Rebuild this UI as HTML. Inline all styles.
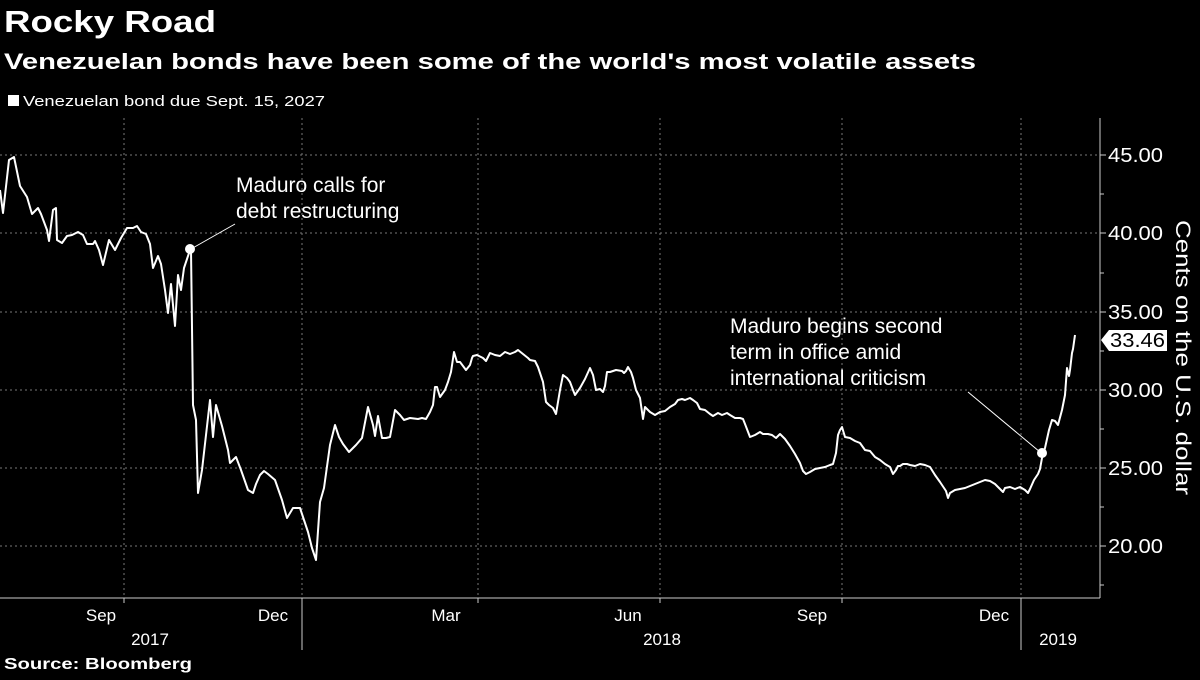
<!DOCTYPE html>
<html><head><meta charset="utf-8"><style>
body{margin:0;background:#000;width:1200px;height:675px;overflow:hidden;font-family:"Liberation Sans",sans-serif;color:#fff}
</style></head><body>
<svg width="1200" height="675" xmlns="http://www.w3.org/2000/svg" font-family="Liberation Sans, sans-serif" fill="#fff">
<text x="4" y="32" font-size="31" font-weight="bold" textLength="212" lengthAdjust="spacingAndGlyphs">Rocky Road</text>
<text x="4" y="69" font-size="22" font-weight="bold" textLength="972" lengthAdjust="spacingAndGlyphs">Venezuelan bonds have been some of the world's most volatile assets</text>
<rect x="8" y="95" width="11" height="11" fill="#fff"/>
<text x="23" y="106" font-size="15" textLength="302" lengthAdjust="spacingAndGlyphs">Venezuelan bond due Sept. 15, 2027</text>
<g stroke="#777" stroke-dasharray="2,3" stroke-width="1">
<line x1="0" y1="155" x2="1100" y2="155"/><line x1="0" y1="233" x2="1100" y2="233"/><line x1="0" y1="312" x2="1100" y2="312"/><line x1="0" y1="390" x2="1100" y2="390"/><line x1="0" y1="468" x2="1100" y2="468"/><line x1="0" y1="546" x2="1100" y2="546"/>
<line x1="124" y1="118" x2="124" y2="598"/><line x1="302" y1="118" x2="302" y2="598"/><line x1="478" y1="118" x2="478" y2="598"/><line x1="660" y1="118" x2="660" y2="598"/><line x1="842" y1="118" x2="842" y2="598"/><line x1="1021" y1="118" x2="1021" y2="598"/>
</g>
<g stroke="#ccc" stroke-width="1">
<line x1="1100" y1="118" x2="1100" y2="598"/><line x1="0" y1="598" x2="1100" y2="598"/>
<line x1="1100" y1="155" x2="1106" y2="155"/><line x1="1100" y1="233" x2="1106" y2="233"/><line x1="1100" y1="312" x2="1106" y2="312"/><line x1="1100" y1="390" x2="1106" y2="390"/><line x1="1100" y1="468" x2="1106" y2="468"/><line x1="1100" y1="546" x2="1106" y2="546"/>
<line x1="1100" y1="194" x2="1104" y2="194"/><line x1="1100" y1="273" x2="1104" y2="273"/><line x1="1100" y1="351" x2="1104" y2="351"/><line x1="1100" y1="429" x2="1104" y2="429"/><line x1="1100" y1="507" x2="1104" y2="507"/><line x1="1100" y1="585" x2="1104" y2="585"/>
<line x1="124" y1="598" x2="124" y2="603"/><line x1="302" y1="598" x2="302" y2="650"/><line x1="478" y1="598" x2="478" y2="603"/><line x1="660" y1="598" x2="660" y2="603"/><line x1="842" y1="598" x2="842" y2="603"/><line x1="1021" y1="598" x2="1021" y2="650"/>
</g>
<g font-size="20">
<text x="1108" y="162" textLength="55" lengthAdjust="spacingAndGlyphs">45.00</text><text x="1108" y="240" textLength="55" lengthAdjust="spacingAndGlyphs">40.00</text><text x="1108" y="319" textLength="55" lengthAdjust="spacingAndGlyphs">35.00</text><text x="1108" y="397" textLength="55" lengthAdjust="spacingAndGlyphs">30.00</text><text x="1108" y="475" textLength="55" lengthAdjust="spacingAndGlyphs">25.00</text><text x="1108" y="553" textLength="55" lengthAdjust="spacingAndGlyphs">20.00</text>
</g>
<polygon points="1101,340 1109,330 1167,330 1167,351 1109,351" fill="#fff"/>
<text x="1110" y="347" font-size="20" fill="#000" textLength="55" lengthAdjust="spacingAndGlyphs">33.46</text>
<text transform="translate(1176,220) rotate(90)" font-size="21" textLength="275" lengthAdjust="spacingAndGlyphs">Cents on the U.S. dollar</text>
<g font-size="17" text-anchor="middle">
<text x="101" y="621">Sep</text><text x="273" y="621">Dec</text><text x="446" y="621">Mar</text><text x="628" y="621">Jun</text><text x="812" y="621">Sep</text><text x="994" y="621">Dec</text>
<text x="150" y="645">2017</text><text x="662" y="645">2018</text><text x="1058" y="645">2019</text>
</g>
<text x="4" y="669" font-size="16" font-weight="bold" textLength="188" lengthAdjust="spacingAndGlyphs">Source: Bloomberg</text>
<polyline fill="none" stroke="#fff" stroke-width="2" stroke-linejoin="round" points="0,190 3,213 9,160 14,157 20,186 27,197 32,214 38,208 41,214 47,230 49,241 53,210 56,208 57,240 62,243 67,236 72,235 78,232 83,235 87,244 93,244 95,241 99,250 103,265 109,240 115,250 121,238 127,228 133,228 137,226 141,232 146,234 150,244 153,268 158,256 161,264 165,290 168,313 171,284 175,326 178,275 181,290 184,268 190,250 191,250 193,405 196,420 198,493 202,470 210,400 213,437 216,405 222,426 228,450 230,463 236,457 241,470 248,490 253,493 256,484 260,475 264,471 268,474 275,480 282,500 287,518 293,508 300,508 304,520 308,532 312,548 316,560 320,502 324,488 330,445 335,425 339,437 343,444 349,452 356,445 362,438 368,407 373,425 375,436 378,416 382,438 386,438 390,437 395,410 400,415 404,420 410,418 418,419 422,418 426,419 430,412 433,405 435,387 437,387 440,397 445,390 448,382 451,372 454,352 457,362 460,362 463,366 466,370 470,365 472,358 473,356 477,355 483,358 486,361 490,353 495,355 500,356 505,352 510,354 515,352 518,350 523,354 528,358 530,360 535,361 538,367 543,382 546,402 549,405 553,408 556,414 560,390 563,375 567,378 570,382 573,390 575,395 580,388 585,379 590,368 593,375 596,390 600,389 603,392 605,386 607,372 610,372 616,370 622,371 624,373 626,371 628,367 631,372 633,378 636,390 640,398 643,419 645,407 648,410 650,412 655,415 660,412 665,411 670,407 675,404 678,400 682,399 685,400 690,398 693,400 697,403 700,409 705,410 710,414 713,416 718,413 722,415 727,413 730,415 735,418 740,418 743,419 745,424 750,437 755,435 760,432 763,434 768,434 772,435 776,438 780,434 785,439 790,446 795,454 800,463 803,471 806,474 810,472 815,469 820,468 825,467 830,465 833,464 836,453 838,435 840,430 842,427 845,437 850,438 855,441 860,443 865,450 870,451 875,457 880,460 885,464 890,467 893,474 896,470 898,466 900,466 903,464 907,464 910,465 915,466 920,464 925,465 930,467 935,475 940,482 946,491 948,498 950,493 955,490 960,489 965,488 970,486 975,484 980,482 985,480 990,481 995,484 1000,489 1003,492 1005,488 1010,487 1015,489 1020,487 1025,490 1028,493 1030,489 1034,480 1038,474 1040,469 1042,458 1045,448 1049,430 1052,420 1055,421 1058,425 1062,410 1065,395 1067,368 1069,376 1070,370 1072,353 1073,349 1075,335"/>
<line x1="191" y1="249" x2="235" y2="224" stroke="#fff" stroke-width="1"/>
<circle cx="190" cy="249" r="5" fill="#fff"/>
<text x="236" y="192" font-size="21">Maduro calls for</text>
<text x="236" y="218" font-size="21">debt restructuring</text>
<line x1="968" y1="392" x2="1040" y2="452" stroke="#fff" stroke-width="1"/>
<circle cx="1042" cy="453" r="5" fill="#fff"/>
<text x="730" y="333" font-size="21">Maduro begins second</text>
<text x="730" y="359" font-size="21">term in office amid</text>
<text x="730" y="385" font-size="21">international criticism</text>
</svg>
</body></html>
